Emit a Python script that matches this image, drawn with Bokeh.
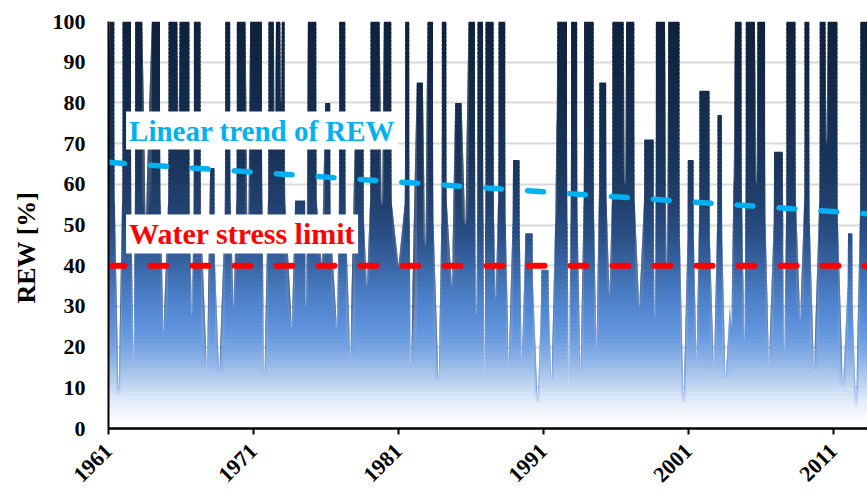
import numpy as np
from bokeh.plotting import figure
from bokeh.models import Label, Range1d, FixedTicker, Title
from bokeh.embed import file_html
from bokeh.resources import INLINE

# REW series (decimal year, REW %)
t_year = [
    1961.00, 1961.08, 1961.40, 1961.44, 1961.69, 1961.93, 1961.97, 1962.55, 1962.59, 1962.72,
    1962.80, 1962.84, 1963.33, 1963.57, 1963.99, 1964.55, 1964.60, 1964.79, 1965.10, 1965.14,
    1965.75, 1965.83, 1965.90, 1966.58, 1966.62, 1966.75, 1966.85, 1966.89, 1967.35, 1967.40,
    1967.78, 1968.01, 1968.31, 1968.35, 1968.63, 1969.00, 1969.05, 1969.39, 1969.43, 1969.62,
    1969.81, 1969.85, 1970.45, 1970.61, 1970.77, 1971.58, 1971.62, 1971.74, 1971.99, 1972.03,
    1972.40, 1972.47, 1972.55, 1972.85, 1972.90, 1972.95, 1973.15, 1973.20, 1973.64, 1973.87,
    1974.56, 1974.61, 1974.75, 1975.33, 1975.38, 1975.71, 1975.94, 1976.29, 1976.33, 1976.75,
    1976.87, 1976.91, 1977.33, 1977.38, 1977.67, 1978.01, 1978.59, 1978.63, 1978.82, 1979.03,
    1979.07, 1979.70, 1979.85, 1979.99, 1980.50, 1980.55, 1981.00, 1981.42, 1981.46, 1981.74,
    1981.78, 1981.85, 1982.26, 1982.68, 1982.84, 1983.00, 1983.38, 1983.42, 1983.76, 1983.95,
    1983.99, 1984.30, 1984.34, 1984.68, 1984.91, 1985.35, 1985.60, 1985.83, 1986.27, 1986.36,
    1986.45, 1986.83, 1986.87, 1986.93, 1986.97, 1987.00, 1987.56, 1987.60, 1987.70, 1987.86,
    1987.90, 1988.36, 1988.40, 1988.60, 1988.86, 1988.90, 1989.35, 1989.38, 1989.50, 1989.70,
    1989.75, 1990.25, 1990.28, 1990.60, 1990.82, 1990.85, 1991.35, 1991.38, 1991.55, 1991.80,
    1991.90, 1991.95, 1992.62, 1992.66, 1992.75, 1992.86, 1992.90, 1993.32, 1993.36, 1993.55,
    1993.76, 1993.80, 1994.46, 1994.50, 1994.65, 1994.81, 1994.85, 1995.32, 1995.36, 1995.55,
    1995.71, 1995.75, 1996.53, 1996.62, 1996.70, 1997.26, 1997.30, 1997.60, 1997.92, 1997.95,
    1998.60, 1998.67, 1998.75, 1999.38, 1999.50, 1999.60, 2000.38, 2000.42, 2000.65, 2000.92,
    2000.95, 2001.35, 2001.38, 2001.55, 2001.72, 2001.75, 2002.45, 2002.49, 2002.75, 2002.97,
    2003.00, 2003.30, 2003.34, 2003.55, 2003.85, 2003.95, 2004.10, 2004.20, 2004.66, 2004.70,
    2004.85, 2004.92, 2004.95, 2005.58, 2005.68, 2005.75, 2006.28, 2006.32, 2006.55, 2006.87,
    2006.90, 2007.50, 2007.60, 2007.72, 2007.75, 2008.38, 2008.42, 2008.70, 2008.97, 2009.00,
    2009.33, 2009.37, 2009.65, 2010.01, 2010.05, 2010.45, 2010.52, 2010.60, 2011.27, 2011.31,
    2011.65, 2011.97, 2012.00, 2012.30, 2012.33, 2012.55, 2012.81, 2012.85, 2013.50,
]
rew = [
    85, 100, 100, 55, 8, 55, 100, 100, 50, 17,
    50, 100, 100, 52, 100, 100, 55, 24, 55, 100,
    100, 70, 100, 100, 50, 28, 50, 100, 100, 50,
    15, 64, 64, 40, 13, 50, 100, 100, 55, 30,
    55, 100, 100, 45, 100, 100, 55, 12, 55, 100,
    100, 70, 100, 100, 80, 100, 100, 55, 25, 56,
    56, 30, 100, 100, 55, 40, 80, 80, 50, 25,
    50, 100, 100, 50, 18, 75, 75, 50, 35, 55,
    100, 100, 55, 100, 100, 55, 40, 55, 100, 100,
    50, 16, 85, 85, 45, 100, 100, 50, 11, 50,
    100, 100, 55, 35, 80, 80, 50, 100, 100, 28,
    100, 100, 50, 13, 50, 100, 100, 50, 32, 55,
    100, 100, 50, 16, 50, 66, 66, 45, 17, 40,
    48, 48, 35, 6, 30, 39, 39, 30, 11, 50,
    75, 100, 100, 50, 11, 50, 100, 100, 50, 13,
    55, 100, 100, 50, 20, 55, 85, 85, 55, 33,
    55, 100, 100, 60, 100, 100, 55, 30, 55, 71,
    71, 27, 100, 100, 40, 100, 100, 45, 6, 45,
    66, 66, 45, 17, 50, 83, 83, 45, 14, 50,
    77, 77, 45, 12, 30, 25, 60, 100, 100, 55,
    22, 55, 100, 100, 60, 100, 100, 50, 16, 50,
    68, 68, 19, 50, 100, 100, 55, 27, 55, 100,
    100, 50, 14, 55, 100, 100, 70, 100, 100, 50,
    10, 35, 48, 48, 30, 5, 50, 100, 100,
]

trend_years = [1961.0, 2013.5]
trend_rew = [65.4, 52.7]
stress_years = [1961.0, 2013.5]
stress_rew = [40.0, 40.0]
xticks = [1961, 1971, 1981, 1991, 2001, 2011]
yticks = list(range(0, 101, 10))

stop_lv = [0, 4, 8, 12, 17, 22, 27, 33, 40, 47, 55, 65, 80, 100]
stop_col = ["#ffffff", "#f4f7fc", "#d9e5f6", "#b5cdee", "#8db2e6", "#6b9bdf", "#588dd7",
            "#4a7dc4", "#3966a5", "#2b5088", "#21416f", "#1a355c", "#142b4b", "#0f213c"]

def hex2rgb(h):
    return [int(h[i:i + 2], 16) for i in (1, 3, 5)]

rgb = np.array([hex2rgb(c) for c in stop_col], dtype=float)

def col_at(lv):
    r = np.interp(lv, stop_lv, rgb[:, 0])
    g = np.interp(lv, stop_lv, rgb[:, 1])
    b = np.interp(lv, stop_lv, rgb[:, 2])
    return "#%02x%02x%02x" % (int(round(r)), int(round(g)), int(round(b)))

n = min(len(t_year), len(rew))
t = np.array(t_year[:n], dtype=float)
v = np.array(rew[:n], dtype=float)

p = figure(frame_width=760, frame_height=407, output_backend="svg", toolbar_location=None,
           x_range=Range1d(1961, 1961 + 760 / 14.5), y_range=Range1d(0, 100),
           min_border_left=106, min_border_right=0, min_border_top=21, min_border_bottom=63)
p.outline_line_color = None
p.background_fill_color = "white"
p.border_fill_color = "white"

# vertical gradient fill under the curve, drawn as slightly overlapping bands
for k in range(0, 100):
    lo = np.minimum(v, float(k))
    hi = np.minimum(v, k + 1.5)
    p.varea(x=t, y1=lo, y2=hi, fill_color=col_at(k + 0.5), fill_alpha=1.0)

p.line(trend_years, trend_rew, line_color="#00b0f0", line_width=5.5, line_dash="16 26", line_cap="round")
p.line(stress_years, stress_rew, line_color="#ff0000", line_width=6, line_dash="16 26", line_cap="round")

lab_font = "Liberation Serif"
p.add_layout(Label(x=1962.21, y=73.2, text="Linear trend of REW", text_font=lab_font, text_font_style="bold",
                   text_font_size="29px", text_color="#00b0f0", text_baseline="middle", text_align="left",
                   background_fill_color="white", padding=3))
p.add_layout(Label(x=1962.21, y=47.8, text="Water stress limit", text_font=lab_font, text_font_style="bold",
                   text_font_size="30px", text_color="#ff0000", text_baseline="middle", text_align="left",
                   background_fill_color="white", padding=3))

ytitle = Title(text="REW [%]", align="left", offset=125, text_font=lab_font, text_font_style="bold",
               text_font_size="26px", text_color="black", standoff=18)
p.add_layout(ytitle, "left")

p.xgrid.grid_line_color = None
p.ygrid.grid_line_color = "#d9d9d9"
p.ygrid.grid_line_width = 2
p.ygrid.ticker = FixedTicker(ticks=yticks)

p.yaxis.ticker = FixedTicker(ticks=yticks)
p.yaxis.axis_line_color = "black"
p.yaxis.axis_line_width = 2
p.yaxis.major_tick_line_color = None
p.yaxis.minor_tick_line_color = None
p.yaxis.major_label_text_font = lab_font
p.yaxis.major_label_text_font_style = "bold"
p.yaxis.major_label_text_font_size = "22px"
p.yaxis.major_label_text_color = "black"
p.yaxis.major_label_standoff = 17

p.xaxis.ticker = FixedTicker(ticks=xticks)
p.xaxis.axis_line_color = "black"
p.xaxis.axis_line_width = 2.5
p.xaxis.major_tick_line_color = "black"
p.xaxis.major_tick_line_width = 2
p.xaxis.major_tick_out = 6
p.xaxis.major_tick_in = 0
p.xaxis.minor_tick_line_color = None
p.xaxis.major_label_orientation = np.pi / 4
p.xaxis.major_label_text_font = lab_font
p.xaxis.major_label_text_font_style = "bold"
p.xaxis.major_label_text_font_size = "22px"
p.xaxis.major_label_text_color = "black"
p.xaxis.major_label_standoff = 13

open("out.html", "w").write(file_html(p, INLINE))
